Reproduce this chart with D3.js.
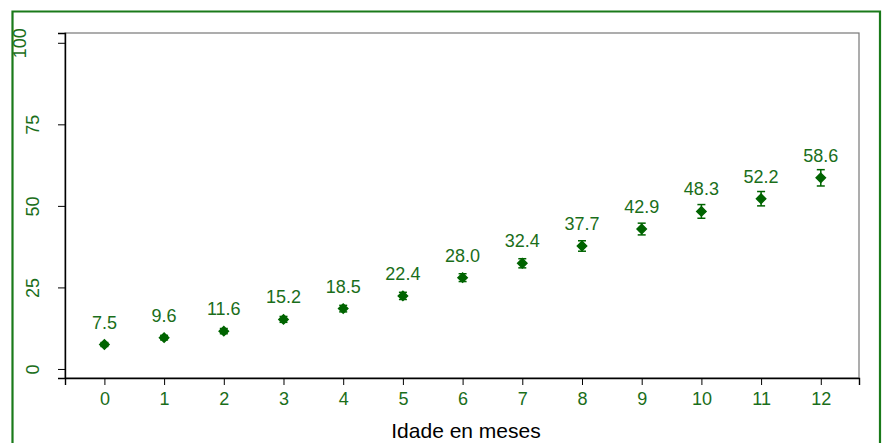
<!DOCTYPE html>
<html><head><meta charset="utf-8">
<script src="https://cdn.jsdelivr.net/npm/d3@7"></script>
<style>body{margin:0;background:#fff}svg{display:block}</style>
</head><body>
<script>
const months = [0,1,2,3,4,5,6,7,8,9,10,11,12];
const values = [7.5,9.6,11.6,15.2,18.5,22.4,28.0,32.4,37.7,42.9,48.3,52.2,58.6];
const lower  = [6.9,8.9,10.8,14.3,17.5,21.3,26.8,31.0,36.1,41.1,46.2,50.0,56.1];
const upper  = [8.1,10.3,12.4,16.1,19.5,23.5,29.2,33.8,39.3,44.7,50.4,54.4,61.1];
const yTicks = [0,25,50,75,100];
const xTitle = "Idade en meses";

const W = 882, H = 443;
const green = "#006400", textGreen = "#1a6e1a", border = "#1a7a1a";
const font = "Liberation Sans, Arial, sans-serif";
const svg = d3.select("body").append("svg").attr("width", W).attr("height", H);
svg.append("rect").attr("width", W).attr("height", H).attr("fill", "#fff");
svg.append("path").attr("d", `M12.5,${H+5} V11.5 H880 V${H+5}`)
  .attr("fill","none").attr("stroke", border).attr("stroke-width", 2.2);

const L = 65, R = 859, T = 33, B = 378;
const x = d3.scaleLinear().domain([-0.66, 12.64]).range([L, R]);
const y = d3.scaleLinear().domain([-2.77, 103.0]).range([B, T]);

svg.append("rect").attr("x", L).attr("y", T).attr("width", R-L).attr("height", B-T)
  .attr("fill","#fff").attr("stroke","#777").attr("stroke-width",1.2);

const yAxis = svg.append("g").attr("transform", `translate(${L},0)`)
  .call(d3.axisLeft(y).tickValues(yTicks).tickSize(7).tickPadding(12).tickFormat(d3.format("d")));
const xAxis = svg.append("g").attr("transform", `translate(0,${B})`)
  .call(d3.axisBottom(x).tickValues(months).tickSize(7).tickPadding(5).tickFormat(d3.format("d")));
[yAxis, xAxis].forEach(g => {
  g.select(".domain").attr("stroke","#000").attr("stroke-width",1.4);
  g.selectAll(".tick line").attr("stroke","#000").attr("stroke-width",1);
  g.selectAll("text").attr("fill", textGreen).attr("font-family", font).attr("font-size",18);
});
yAxis.selectAll(".tick text")
  .attr("text-anchor","middle")
  .attr("transform", d => `translate(${d===100 ? -45 : -32},0) rotate(-90)`)
  .attr("x", 0).attr("dy", "0.35em");
xAxis.selectAll(".tick text").attr("dy","0.85em");

const eb = svg.append("g").attr("stroke", green).attr("stroke-width", 1.5);
months.forEach((m,i) => {
  const cx = x(m);
  eb.append("line").attr("x1",cx).attr("x2",cx).attr("y1",y(lower[i])).attr("y2",y(upper[i]));
  eb.append("line").attr("x1",cx-4).attr("x2",cx+4).attr("y1",y(lower[i])).attr("y2",y(lower[i]));
  eb.append("line").attr("x1",cx-4).attr("x2",cx+4).attr("y1",y(upper[i])).attr("y2",y(upper[i]));
});
const diamond = d3.symbol().type(d3.symbolDiamond2).size(55);
svg.append("g").selectAll("path").data(months).join("path")
  .attr("d", diamond)
  .attr("transform", (m,i) => `translate(${x(m)},${y(values[i])})`)
  .attr("fill", green).attr("stroke", green).attr("stroke-width", 1.5);

svg.append("g").selectAll("text").data(months).join("text")
  .attr("x", m => x(m)).attr("y", (m,i) => y(values[i]) - 16)
  .attr("text-anchor","middle").attr("fill", textGreen)
  .attr("font-family", font).attr("font-size",18)
  .text((m,i) => values[i].toFixed(1));

svg.append("text").attr("x", (L+R)/2+4).attr("y", 438).attr("text-anchor","middle")
  .attr("font-family", font).attr("font-size",21).attr("fill","#000")
  .text(xTitle);
</script>
</body></html>
